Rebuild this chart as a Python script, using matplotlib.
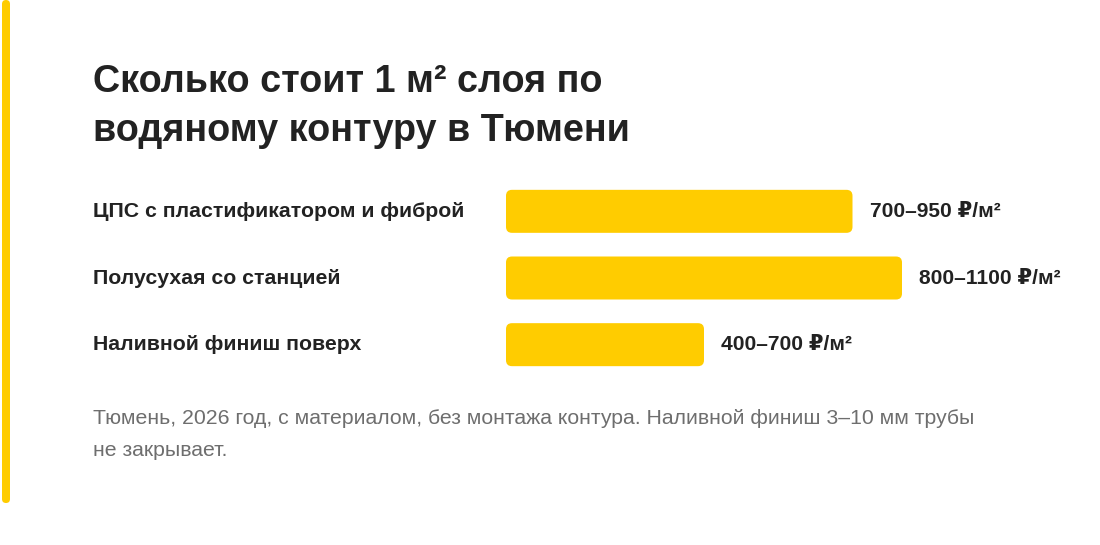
import matplotlib.pyplot as plt
from matplotlib.patches import FancyBboxPatch
import matplotlib.transforms as mtransforms

categories = ["ЦПС с пластификатором и фиброй", "Полусухая со станцией", "Наливной финиш поверх"]
price_low = [700, 800, 400]
price_high = [950, 1100, 700]
title = "Сколько стоит 1 м² слоя по\nводяному контуру в Тюмени"
note = ("Тюмень, 2026 год, с материалом, без монтажа контура. Наливной финиш 3–10 мм трубы\n"
        "не закрывает.")

W, H = 1100, 545
YELLOW = "#FFCC00"
DARK = "#222222"
GREY = "#6e6e6e"

plt.rcParams["font.family"] = ["Liberation Sans", "DejaVu Sans"]


def px(x, y):
    return x / W, 1 - y / H


fig = plt.figure(figsize=(W / 100, H / 100), dpi=100)
fig.patch.set_facecolor("white")

# left accent strip
sx, sy = px(2, 503)
strip = FancyBboxPatch((sx, sy), 8 / W, 503 / H, boxstyle=f"round,pad=0,rounding_size={4 / W}",
                       mutation_aspect=W / H, transform=fig.transFigure,
                       facecolor=YELLOW, edgecolor="none")
fig.patches.append(strip)

tx, ty = px(93, 64)
fig.text(tx, ty, title, fontsize=27.2, fontweight="bold", color=DARK,
         va="top", ha="left", linespacing=1.47)

# bars axes: 800 units -> 396 px
ax_left, ax_top, ax_w, ax_h = 506, 178, 396, 200
ax = fig.add_axes([ax_left / W, 1 - (ax_top + ax_h) / H, ax_w / W, ax_h / H])
ax.set_xlim(0, max(price_low))
ax.set_ylim(len(categories) - 0.5, -0.5)
ax.axis("off")

bars = ax.barh(range(len(categories)), price_low, height=0.645, color=YELLOW)
ux = max(price_low) / ax_w
uy = len(categories) / ax_h
for b in bars:
    x0, y0 = b.get_x(), b.get_y()
    w, h = b.get_width(), b.get_height()
    b.set_visible(False)
    ax.add_patch(FancyBboxPatch((x0, y0), w, h,
                                boxstyle=f"round,pad=0,rounding_size={6 * ux}",
                                mutation_aspect=uy / ux,
                                facecolor=YELLOW, edgecolor="none"))

off = mtransforms.offset_copy(ax.transData, fig=fig, x=17, y=0, units="dots")
for i, (lo, hi) in enumerate(zip(price_low, price_high)):
    ax.text(lo, i, f"{lo}–{hi} ₽/м²", transform=off, fontsize=15.1,
            fontweight="bold", color=DARK, va="center", ha="left")
    lx, ly = px(93, ax_top + ax_h / len(categories) * (i + 0.5))
    fig.text(lx, ly, categories[i], fontsize=15.3, fontweight="bold",
             color=DARK, va="center", ha="left")

nx_, ny_ = px(93, 409)
fig.text(nx_, ny_, note, fontsize=15.3, color=GREY, va="top", ha="left",
         linespacing=1.85)

fig.savefig("out.png", dpi=100, facecolor="white")
